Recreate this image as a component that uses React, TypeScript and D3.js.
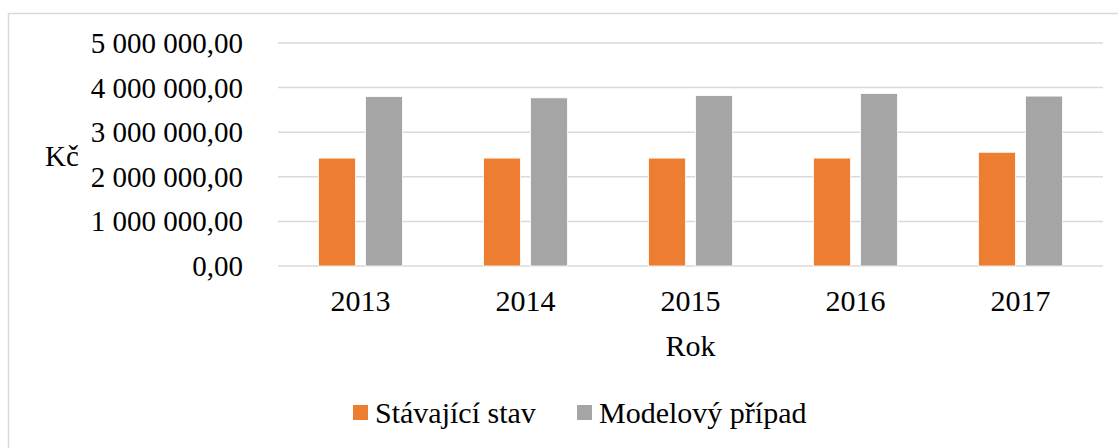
import React from 'react';
import * as d3 from 'd3';

const years = ['2013', '2014', '2015', '2016', '2017'];
const stavajici = [2420000, 2420000, 2420000, 2420000, 2550000];
const modelovy = [3800000, 3770000, 3820000, 3870000, 3810000];
const yTicks = [0, 1000000, 2000000, 3000000, 4000000, 5000000];
const seriesNames = ['Stávající stav', 'Modelový případ'];
const colors = ['#ED7D31', '#A5A5A5'];

const fmt = (v: number) => d3.format(',.2f')(v).replace(/,/g, ' ').replace('.', ',');

const width = 1118;
const height = 448;
const margin = { top: 43, right: 15, bottom: 182, left: 278 };
const innerWidth = width - margin.left - margin.right;
const innerHeight = height - margin.top - margin.bottom;

const App = () => {
  const x = d3.scaleBand().domain(years).range([0, innerWidth]);
  const y = d3.scaleLinear().domain([0, 5000000]).range([innerHeight, 0]);
  const barW = 37;
  const gap = 10;
  const series = [stavajici, modelovy];
  const legendX = [353, 577];

  return (
    <svg width={width} height={height} style={{ position: 'absolute', left: 0, top: 0, background: '#fff' }}>
      {/* outer border */}
      <rect x={8.5} y={13.5} width={1130} height={460} fill="#fff" stroke="#D9D9D9" strokeWidth={1.5} />
      <g transform={`translate(${margin.left},${margin.top})`}>
        {yTicks.map((t) => (
          <line key={'g' + t} x1={0} x2={innerWidth} y1={y(t)} y2={y(t)} stroke="#D9D9D9" strokeWidth={1.5} />
        ))}
        {yTicks.map((t) => (
          <text key={'t' + t} x={-35} y={y(t) + 10} textAnchor="end" fontSize={29} style={{ fontFamily: "'Times New Roman'" }}>
            {fmt(t)}
          </text>
        ))}
        {series.map((vals, si) =>
          years.map((yr, i) => (
            <rect
              key={si + yr}
              x={x(yr)! + x.bandwidth() / 2 + (si === 0 ? -gap / 2 - barW : gap / 2)}
              y={y(vals[i])}
              width={barW}
              height={innerHeight - y(vals[i])}
              fill={colors[si]}
              stroke="#fff"
              strokeWidth={0.8}
            />
          ))
        )}
        {years.map((yr) => (
          <text key={'x' + yr} x={x(yr)! + x.bandwidth() / 2} y={innerHeight + 45} textAnchor="middle" fontSize={30} style={{ fontFamily: "'Times New Roman'" }}>
            {yr}
          </text>
        ))}
        <text x={innerWidth / 2} y={innerHeight + 90} textAnchor="middle" fontSize={30} style={{ fontFamily: "'Times New Roman'" }}>
          Rok
        </text>
      </g>
      <text x={45} y={166} fontSize={29} style={{ fontFamily: "'Times New Roman'" }}>
        Kč
      </text>
      {seriesNames.map((name, i) => (
        <g key={name}>
          <rect x={legendX[i]} y={405} width={15} height={15} fill={colors[i]} />
          <text x={legendX[i] + 22} y={423} fontSize={30} style={{ fontFamily: "'Times New Roman'" }}>
            {name}
          </text>
        </g>
      ))}
    </svg>
  );
};

export default App;
